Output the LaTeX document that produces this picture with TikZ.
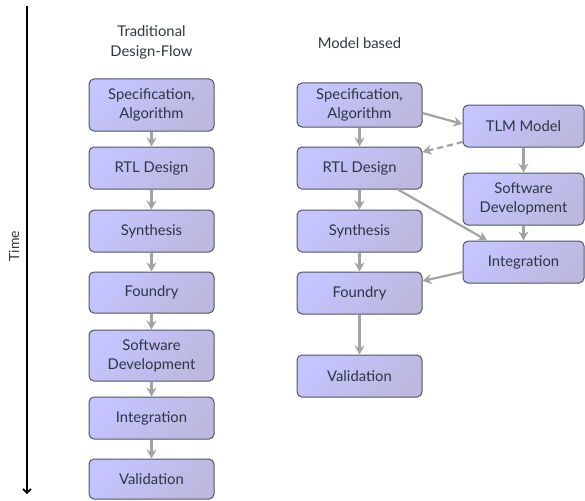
\documentclass[tikz,border=0pt]{standalone}
\usepackage{fontspec}
\setmainfont{Lato}
\usetikzlibrary{arrows.meta}
\definecolor{boxtop}{RGB}{196,196,255}
\definecolor{boxbot}{RGB}{188,184,222}
\definecolor{boxline}{RGB}{80,85,100}
\definecolor{boxtext}{RGB}{44,54,70}
\definecolor{flowgray}{RGB}{163,163,163}
\definecolor{titletext}{RGB}{50,54,60}
\tikzset{
  stage/.style={draw=boxline, line width=1pt, rounded corners=5pt,
    top color=boxtop, bottom color=boxbot, shading angle=45,
    text=boxtext, align=center, inner sep=0pt,
    font=\fontsize{14.8}{19}\selectfont},
  wide/.style={stage, minimum width=125pt},
  side/.style={stage, minimum width=121pt},
  flow/.style={draw=flowgray, line width=2.2pt,
    -{Stealth[length=9pt,width=10pt,inset=3pt]}},
  title/.style={text=titletext, align=center, font=\fontsize{14.8}{20}\selectfont},
}
\begin{document}
\begin{tikzpicture}[x=1pt,y=-1pt]
\useasboundingbox (0,0) rectangle (585,500);

% time axis
\coordinate (t0) at (27,6);
\coordinate (t1) at (27,494);
\draw[line width=1.6pt, -{Straight Barb[length=4pt,width=8pt]}] (t0) -- (t1);
\node[rotate=90, text=titletext, font=\fontsize{14}{16}\selectfont] (time) at (14,246) {Time};

% column headings
\node[title] (hleft) at (151.5,42) {Traditional\\Design-Flow};
\node[title] (hmid) at (359.5,43) {Model based};

% traditional design flow
\node[wide, minimum height=52pt] (L1) at (151.5,105) {Specification,\\Algorithm};
\node[wide, minimum height=42pt] (L2) at (151.5,168) {RTL Design};
\node[wide, minimum height=42pt] (L3) at (151.5,231) {Synthesis};
\node[wide, minimum height=41pt] (L4) at (151.5,292.5) {Foundry};
\node[wide, minimum height=51pt] (L5) at (151.5,355.5) {Software\\Development};
\node[wide, minimum height=42pt] (L6) at (151.5,418) {Integration};
\node[wide, minimum height=40pt] (L7) at (151.5,479) {Validation};

\foreach \a/\b in {L1/L2,L2/L3,L3/L4,L4/L5,L5/L6,L6/L7}
  \draw[flow] (\a) -- (\b);

% model based flow
\node[wide, minimum height=44pt] (M1) at (359.5,105) {Specification,\\Algorithm};
\node[wide, minimum height=42pt] (M2) at (359.5,168) {RTL Design};
\node[wide, minimum height=42pt] (M3) at (359.5,231) {Synthesis};
\node[wide, minimum height=42pt] (M4) at (359.5,293) {Foundry};
\node[wide, minimum height=42pt] (M5) at (359.5,376) {Validation};

\node[side, minimum height=42pt] (R1) at (523.5,126) {TLM Model};
\node[side, minimum height=52pt] (R2) at (523.5,199) {Software\\Development};
\node[side, minimum height=42pt] (R3) at (523.5,262) {Integration};

\foreach \a/\b in {M1/M2,M2/M3,M3/M4,M4/M5,R1/R2,R2/R3}
  \draw[flow] (\a) -- (\b);

\draw[flow] ([yshift=-8pt]M1.east) -- ([yshift=2pt]R1.west);
\draw[flow, dashed, dash pattern=on 6pt off 4pt] ([yshift=-16pt]R1.west) -- ([yshift=16pt]M2.east);
\draw[flow] ([xshift=38.5pt]M2.south) -- ([xshift=-36.5pt]R3.north);
\draw[flow] ([yshift=-10pt]R3.west) -- ([yshift=12pt]M4.east);
\end{tikzpicture}
\end{document}
